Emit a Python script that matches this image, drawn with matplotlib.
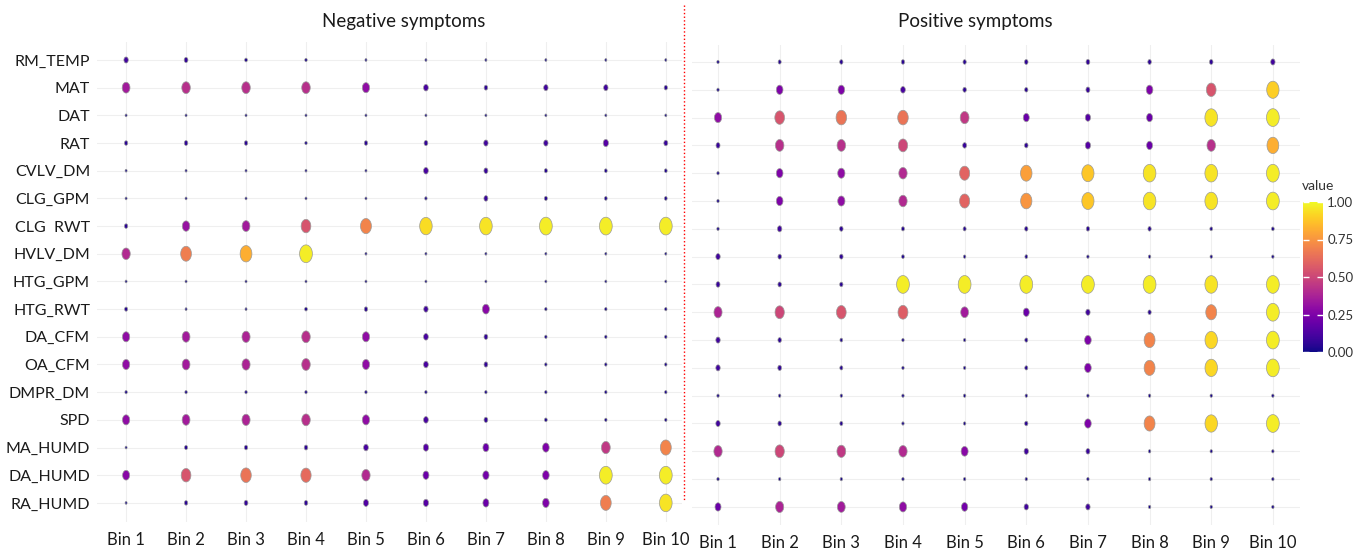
import numpy as np
import matplotlib
matplotlib.use("Agg")
import matplotlib.pyplot as plt
from matplotlib.path import Path
from matplotlib.lines import Line2D
import matplotlib.colors as mcolors
import matplotlib.colorbar as mcolorbar

plt.rcParams['font.family'] = ['Lato', 'DejaVu Sans']

features = ["RM_TEMP", "MAT", "DAT", "RAT", "CVLV_DM", "CLG_GPM", "CLG  RWT",
            "HVLV_DM", "HTG_GPM", "HTG_RWT", "DA_CFM", "OA_CFM", "DMPR_DM",
            "SPD", "MA_HUMD", "DA_HUMD", "RA_HUMD"]
bins = ["Bin %d" % i for i in range(1, 11)]

# importance per feature (rows) and bin (columns)
negative = [
    [0.10, 0.07, 0.03, 0.02, 0.01, 0.01, 0.01, 0.01, 0.01, 0.01],
    [0.35, 0.42, 0.42, 0.42, 0.30, 0.12, 0.06, 0.10, 0.10, 0.05],
    [0.01, 0.01, 0.01, 0.01, 0.01, 0.01, 0.01, 0.01, 0.01, 0.01],
    [0.05, 0.06, 0.05, 0.02, 0.05, 0.07, 0.10, 0.10, 0.15, 0.08],
    [0.01, 0.01, 0.01, 0.01, 0.01, 0.12, 0.08, 0.04, 0.03, 0.03],
    [0.01, 0.01, 0.01, 0.01, 0.01, 0.02, 0.08, 0.04, 0.03, 0.03],
    [0.05, 0.32, 0.35, 0.55, 0.70, 0.93, 0.95, 0.97, 0.97, 0.97],
    [0.40, 0.68, 0.82, 0.97, 0.01, 0.01, 0.01, 0.01, 0.01, 0.01],
    [0.01, 0.01, 0.01, 0.01, 0.01, 0.01, 0.01, 0.01, 0.01, 0.01],
    [0.04, 0.01, 0.01, 0.03, 0.05, 0.10, 0.28, 0.02, 0.02, 0.02],
    [0.30, 0.35, 0.38, 0.42, 0.30, 0.12, 0.07, 0.02, 0.02, 0.02],
    [0.30, 0.35, 0.38, 0.42, 0.30, 0.12, 0.07, 0.02, 0.02, 0.02],
    [0.02, 0.02, 0.02, 0.02, 0.02, 0.02, 0.02, 0.02, 0.02, 0.02],
    [0.30, 0.35, 0.38, 0.42, 0.30, 0.12, 0.07, 0.03, 0.02, 0.02],
    [0.01, 0.04, 0.05, 0.06, 0.12, 0.15, 0.20, 0.25, 0.45, 0.70],
    [0.28, 0.55, 0.65, 0.62, 0.40, 0.20, 0.22, 0.25, 0.97, 0.97],
    [0.01, 0.05, 0.07, 0.06, 0.14, 0.15, 0.20, 0.25, 0.68, 0.95],
]

positive = [
    [0.02, 0.04, 0.05, 0.05, 0.05, 0.06, 0.07, 0.06, 0.06, 0.10],
    [0.02, 0.25, 0.25, 0.12, 0.06, 0.05, 0.08, 0.25, 0.55, 0.90],
    [0.30, 0.55, 0.65, 0.65, 0.45, 0.20, 0.15, 0.20, 0.95, 0.97],
    [0.08, 0.42, 0.42, 0.50, 0.08, 0.06, 0.15, 0.20, 0.42, 0.82],
    [0.02, 0.25, 0.30, 0.40, 0.60, 0.78, 0.88, 0.95, 0.95, 0.97],
    [0.02, 0.25, 0.30, 0.40, 0.60, 0.75, 0.88, 0.95, 0.95, 0.97],
    [0.02, 0.10, 0.06, 0.04, 0.04, 0.05, 0.05, 0.05, 0.03, 0.03],
    [0.10, 0.06, 0.06, 0.03, 0.02, 0.03, 0.02, 0.02, 0.02, 0.02],
    [0.08, 0.06, 0.05, 0.97, 0.97, 0.97, 0.97, 0.97, 0.95, 0.97],
    [0.38, 0.50, 0.55, 0.58, 0.35, 0.20, 0.10, 0.05, 0.70, 0.97],
    [0.10, 0.06, 0.03, 0.02, 0.02, 0.04, 0.25, 0.70, 0.92, 0.97],
    [0.10, 0.07, 0.04, 0.02, 0.02, 0.04, 0.25, 0.70, 0.92, 0.97],
    [0.02, 0.02, 0.02, 0.02, 0.02, 0.02, 0.02, 0.02, 0.02, 0.02],
    [0.10, 0.06, 0.04, 0.02, 0.02, 0.05, 0.25, 0.70, 0.92, 0.97],
    [0.40, 0.50, 0.45, 0.40, 0.28, 0.10, 0.08, 0.02, 0.02, 0.02],
    [0.02, 0.02, 0.02, 0.02, 0.02, 0.02, 0.02, 0.02, 0.02, 0.02],
    [0.20, 0.38, 0.35, 0.30, 0.22, 0.10, 0.10, 0.02, 0.02, 0.02],
]

W, H = 1367, 552
fig = plt.figure(figsize=(W / 100, H / 100), dpi=100)

# slightly tall ellipse marker
t = np.linspace(0, 2 * np.pi, 60)
ellipse = Path(np.column_stack([0.72 * np.cos(t), np.sin(t)]), closed=True)

cmap = plt.get_cmap('plasma')
norm = mcolors.Normalize(0, 1)
TXT = '#1a1a1a'


def px_box(x0, y0, x1, y1):
    return [x0 / W, 1 - y1 / H, (x1 - x0) / W, (y1 - y0) / H]


def dot_panel(ax, data, show_labels):
    vals = np.array(data)
    yy, xx = np.mgrid[0:vals.shape[0], 0:vals.shape[1]]
    order = np.argsort(vals.ravel())
    ax.scatter((xx.ravel() + 1)[order], yy.ravel()[order],
               s=2.5 + 166 * vals.ravel()[order], c=vals.ravel()[order],
               cmap=cmap, norm=norm, marker=ellipse,
               edgecolors='#9a9a9a', linewidths=0.5, zorder=3)
    ax.set_xticks(range(1, 11))
    ax.set_xticklabels(bins, fontsize=12, color=TXT)
    ax.set_yticks(range(len(features)))
    if show_labels:
        ax.set_yticklabels(features, fontsize=11.5, color=TXT)
    else:
        ax.set_yticklabels([])
    ax.tick_params(axis='x', length=0, pad=7)
    ax.tick_params(axis='y', length=0, pad=5)
    ax.grid(True, color='#efefef', linewidth=0.8)
    ax.set_axisbelow(True)
    for sp in ax.spines.values():
        sp.set_visible(False)


ax1 = fig.add_axes(px_box(97, 42, 682, 522))
dot_panel(ax1, negative, True)
ax1.set_xlim(0.515, 10.27)
ax1.set_ylim(16.69, -0.65)

ax2 = fig.add_axes(px_box(692, 45, 1300, 525))
dot_panel(ax2, positive, False)
ax2.set_xlim(0.578, 10.44)
ax2.set_ylim(16.65, -0.61)

fig.text(404 / W, 1 - 22 / H, "Negative symptoms", ha='center', va='center',
         fontsize=13.5, color=TXT)
fig.text(975 / W, 1 - 22 / H, "Positive symptoms", ha='center', va='center',
         fontsize=13.5, color=TXT)

# separator between the two panels
fig.add_artist(Line2D([684 / W, 684 / W], [1 - 5 / H, 1 - 500 / H],
                      color='red', linestyle=':', linewidth=1.0))

# colour bar legend
cax = fig.add_axes(px_box(1303, 202, 1323, 352))
cb = mcolorbar.ColorbarBase(cax, cmap=cmap, norm=norm,
                            ticks=[0, 0.25, 0.5, 0.75, 1.0])
cb.outline.set_visible(False)
cb.ax.set_yticklabels(["0.00", "0.25", "0.50", "0.75", "1.00"])
cb.ax.tick_params(length=4, color='white', width=1, labelsize=9.5,
                  labelcolor='#333333', pad=3, direction='in',
                  left=True, right=True)
fig.text(1302 / W, 1 - 186 / H, "value", ha='left', va='center', fontsize=10,
         color='#333333')

fig.savefig("out.png", dpi=100, facecolor='white')
